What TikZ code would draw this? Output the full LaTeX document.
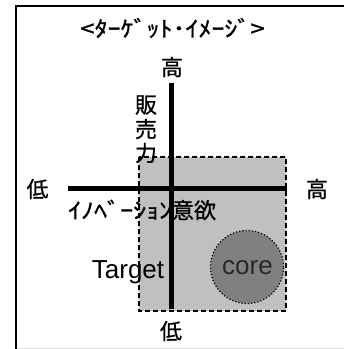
\documentclass[tikz,border=0pt]{standalone}
\usepackage{fontspec}
\setmainfont{Liberation Sans}
\newfontfamily\jp[FakeBold=0.8]{Noto Sans CJK JP}
\newfontfamily\jpk[FakeStretch=1.18,FakeBold=1.2]{Noto Sans CJK JP}
\begin{document}
\begin{tikzpicture}[x=1pt,y=-1pt,
  jplabel/.style={inner sep=0pt, font=\jp\fontsize{22}{22}\selectfont},
  axis/.style={line width=4.5pt},
  latin/.style={inner sep=0pt, font=\fontsize{26}{26}\selectfont}]
\useasboundingbox (0,0) rectangle (344,349);
% frame
\draw[line width=2pt] (16,349) -- (16,5.5) -- (344,5.5);
\draw[gray!25, line width=1pt] (17,348) -- (344,348);
% target region
\draw[fill={rgb,255:red,192;green,192;blue,192}, line width=1.4pt, dash pattern=on 5pt off 3pt] (139,157) rectangle (286,311);
% core circle
\node[circle, minimum size=73pt, inner sep=0pt, fill={rgb,255:red,128;green,128;blue,128}, draw, line width=1.2pt, dotted] (core) at (247,267) {};
\node[latin, text={rgb,255:red,40;green,40;blue,40}] (coretxt) at (247.5,268) {core};
% axes
\coordinate (vt) at (171.5,83);
\coordinate (vb) at (171.5,309);
\coordinate (hl) at (68,188.5);
\coordinate (hr) at (287,188.5);
\draw[axis] (vt) -- (vb);
\draw[axis] (hl) -- (hr);
% labels
\node[latin, anchor=base] (target) at (128,278) {Target};
\node[jplabel, font=\jpk\fontsize{22}{22}\selectfont] (ttl) at (172.5,28) {<ﾀｰｹﾞｯﾄ･ｲﾒｰｼﾞ>};
\node[jplabel] (hitop) at (172,67) {高};
\node[jplabel] (lobot) at (171,331) {低};
\node[jplabel] (loleft) at (37.5,189) {低};
\node[jplabel] (hiright) at (317,189) {高};
\node[jplabel] (s1) at (146,105) {販};
\node[jplabel] (s2) at (146,129) {売};
\node[jplabel] (s3) at (146,153) {力};
\node[jplabel, anchor=west] (innov) at (68,210) {{\jpk ｲﾉﾍﾞｰｼｮﾝ}意欲};
\end{tikzpicture}
\end{document}
